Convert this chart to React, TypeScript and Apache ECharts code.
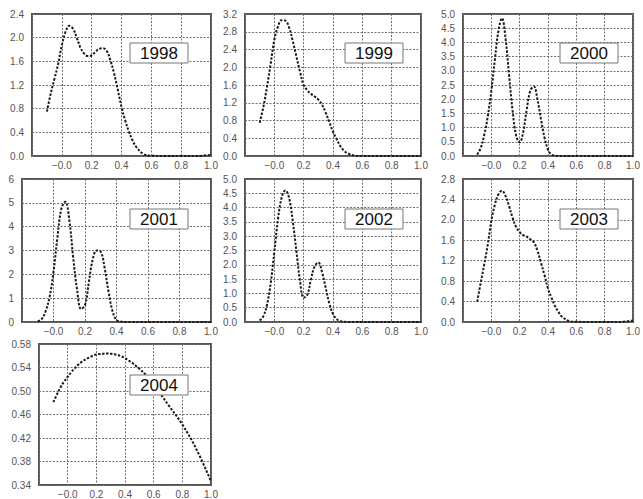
import React, { useEffect, useRef } from "react";
import * as echarts from "echarts";

// shared x sample positions
const xs = [-0.1, -0.075, -0.05, -0.025, 0, 0.025, 0.05, 0.075, 0.1, 0.125, 0.15, 0.175, 0.2, 0.225, 0.25, 0.275, 0.3, 0.325, 0.35, 0.375, 0.4, 0.425, 0.45, 0.475, 0.5, 0.55, 0.6, 0.7, 0.8, 0.9, 1.0];

const years = ["1998", "1999", "2000", "2001", "2002", "2003", "2004"];

const d1998 = [0.75, 1.05, 1.3, 1.55, 1.87, 2.1, 2.2, 2.15, 2.0, 1.83, 1.73, 1.69, 1.7, 1.76, 1.81, 1.82, 1.78, 1.62, 1.4, 1.12, 0.83, 0.6, 0.41, 0.26, 0.15, 0.03, 0.005, 0, 0, 0, 0.02];
const d1999 = [0.75, 1.1, 1.56, 2.08, 2.62, 2.92, 3.06, 3.05, 2.9, 2.6, 2.25, 1.9, 1.6, 1.48, 1.4, 1.34, 1.27, 1.16, 0.98, 0.76, 0.55, 0.38, 0.22, 0.12, 0.06, 0.01, 0, 0, 0, 0, 0];
const d2000 = [0.05, 0.28, 0.75, 1.4, 2.3, 3.4, 4.4, 4.85, 4.15, 2.85, 1.6, 0.72, 0.48, 0.85, 1.65, 2.3, 2.45, 2.0, 1.3, 0.65, 0.22, 0.05, 0.01, 0, 0, 0, 0, 0, 0, 0, 0];
const d2001 = [0.03, 0.12, 0.45, 1.05, 2.1, 3.55, 4.75, 5.05, 4.3, 2.7, 1.35, 0.55, 0.7, 1.7, 2.65, 3.0, 2.95, 2.25, 1.25, 0.45, 0.08, 0.02, 0, 0, 0, 0, 0, 0, 0, 0, 0];
const d2002 = [0.05, 0.2, 0.6, 1.35, 2.45, 3.6, 4.35, 4.6, 4.35, 3.55, 2.5, 1.45, 0.85, 0.95, 1.5, 1.95, 2.08, 1.75, 1.2, 0.65, 0.28, 0.1, 0.03, 0.01, 0, 0, 0, 0, 0, 0, 0];
const d2003 = [0.4, 0.77, 1.13, 1.52, 1.98, 2.3, 2.5, 2.57, 2.47, 2.27, 2.04, 1.86, 1.76, 1.7, 1.67, 1.62, 1.56, 1.4, 1.16, 0.92, 0.65, 0.47, 0.31, 0.19, 0.1, 0.02, 0.005, 0, 0, 0, 0.03];
const d2004 = [0.481, 0.494, 0.506, 0.516, 0.524, 0.532, 0.539, 0.545, 0.55, 0.554, 0.557, 0.56, 0.562, 0.563, 0.5635, 0.5638, 0.5635, 0.5625, 0.561, 0.559, 0.556, 0.552, 0.548, 0.543, 0.538, 0.526, 0.511, 0.477, 0.443, 0.4, 0.346];

const seriesData = [d1998, d1999, d2000, d2001, d2002, d2003, d2004];

// y-axis scales per panel
const yMin = [0, 0, 0, 0, 0, 0, 0.34];
const yMax = [2.4, 3.2, 5.0, 6, 5.0, 2.8, 0.58];
const yStep = [0.4, 0.4, 0.5, 1, 0.5, 0.4, 0.04];
const yDigits = [1, 1, 1, 0, 1, 1, 2];

// x-axis scale
const xMin = -0.2;
const xMax = 1.0;
const xStep = 0.2;

// layout (pixels)
const LAYOUT = [
  { left: 32, top: 14, width: 179, height: 142, box: [130, 43] },
  { left: 245, top: 14, width: 176, height: 142, box: [345, 43] },
  { left: 463, top: 14, width: 175, height: 142, box: [560, 43] },
  { left: 22, top: 179, width: 189, height: 143, box: [130, 209] },
  { left: 245, top: 179, width: 176, height: 143, box: [345, 209] },
  { left: 463, top: 179, width: 175, height: 143, box: [560, 209] },
  { left: 39, top: 344, width: 172, height: 143, box: [130, 375] },
];

const FONT = "'Liberation Sans', Arial, sans-serif";

export default function App() {
  const ref = useRef<HTMLDivElement>(null);
  useEffect(() => {
    if (!ref.current) return;
    const chart = echarts.init(ref.current, undefined, { renderer: "svg" });
    const grids: any[] = [];
    const xAxes: any[] = [];
    const yAxes: any[] = [];
    const series: any[] = [];
    const graphics: any[] = [];
    years.forEach((yr, i) => {
      const L = LAYOUT[i];
      grids.push({
        left: L.left,
        top: L.top,
        width: L.width,
        height: L.height,
        show: true,
        backgroundColor: "#fff",
        borderColor: "#555",
        borderWidth: 2,
        containLabel: false,
      });
      xAxes.push({
        type: "value",
        gridIndex: i,
        min: xMin,
        max: xMax,
        interval: xStep,
        axisLine: { show: false },
        axisTick: { show: false },
        splitLine: { show: true, lineStyle: { color: "#6e6e6e", width: 1, type: [2, 1.5] } },
        axisLabel: {
          margin: 4,
          fontSize: 10,
          color: "#555",
          fontFamily: FONT,
          showMinLabel: true,
          showMaxLabel: true,
          formatter: (v: number) => {
            if (v < -0.1) return "";
            if (Math.abs(v) < 1e-9) return "\u22120.0";
            return v.toFixed(1);
          },
        },
      });
      const base = yMin[i];
      const digits = yDigits[i];
      yAxes.push({
        type: "value",
        gridIndex: i,
        min: 0,
        max: +(yMax[i] - base).toFixed(4),
        interval: yStep[i],
        axisLine: { show: false },
        axisTick: { show: false },
        splitLine: { show: true, lineStyle: { color: "#6e6e6e", width: 1, type: [2, 1.5] } },
        axisLabel: {
          margin: 8,
          fontSize: 10,
          color: "#555",
          fontFamily: FONT,
          showMinLabel: true,
          showMaxLabel: true,
          formatter: (v: number) => (v + base).toFixed(digits),
        },
      });
      series.push({
        type: "line",
        xAxisIndex: i,
        yAxisIndex: i,
        z: 2,
        data: xs.map((x, k) => [x, seriesData[i][k] - base]),
        smooth: 0.4,
        showSymbol: false,
        symbol: "none",
        lineStyle: { color: "#1a1a1a", width: 2, type: [2.4, 1.6] },
        clip: true,
      });
      graphics.push({
        type: "rect",
        z: 100,
        zlevel: 0,
        x: L.box[0],
        y: L.box[1],
        shape: { x: 0, y: 0, width: 58, height: 20 },
        style: { fill: "#fff", stroke: "#777", lineWidth: 1 },
      });
      graphics.push({
        type: "text",
        z: 101,
        zlevel: 0,
        x: L.box[0] + 29,
        y: L.box[1] + 10.5,
        style: {
          text: yr,
          fontSize: 17,
          fontFamily: FONT,
          fill: "#111",
          align: "center",
          verticalAlign: "middle",
        },
      });
    });
    chart.setOption({
      animation: false,
      backgroundColor: "#fff",
      grid: grids,
      xAxis: xAxes,
      yAxis: yAxes,
      series,
      graphic: { elements: graphics },
    });
    return () => chart.dispose();
  }, []);
  return (
    <div
      ref={ref}
      style={{ position: "fixed", left: 0, top: 0, width: 643, height: 499 }}
    />
  );
}
